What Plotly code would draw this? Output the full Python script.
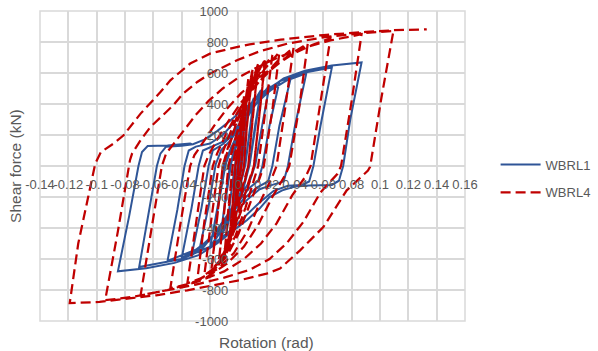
import plotly.graph_objects as go

# ---------------- data ----------------
x_tick_values = [-0.14, -0.12, -0.10, -0.08, -0.06, -0.04, -0.02, 0.0,
                 0.02, 0.04, 0.06, 0.08, 0.10, 0.12, 0.14, 0.16]
x_tick_labels = ["-0.14", "-0.12", "-0.1", "-0.08", "-0.06", "-0.04", "-0.02", "0",
                 "0.02", "0.04", "0.06", "0.08", "0.1", "0.12", "0.14", "0.16"]
y_tick_values = [-1000, -800, -600, -400, -200, 0, 200, 400, 600, 800, 1000]
y_tick_labels = ["-1000", "-800", "-600", "-400", "-200", "0", "200", "400", "600", "800", "1000"]

# WBRL1 hysteresis path (rotation in rad, shear force in kN)
wbrl1_rotation = [
    0.0, 0.002, 0.004,
    0.003, 0.001, -0.002, -0.004,
    -0.002, 0.0, 0.004, 0.007,
    0.005, 0.002, -0.003, -0.008,
    -0.005, -0.002, 0.002, 0.006, 0.011,
    0.008, 0.005, 0.001, -0.005, -0.013,
    -0.009, -0.006, -0.002, 0.004, 0.011,
    0.008, 0.005, 0.001, -0.006, -0.013,
    -0.009, -0.005, -0.001, 0.005, 0.010, 0.016,
    0.012, 0.008, 0.004, -0.003, -0.011, -0.020,
    -0.014, -0.010, -0.005, 0.002, 0.009, 0.016,
    0.012, 0.008, 0.004, -0.004, -0.012, -0.020,
    -0.014, -0.009, -0.005, 0.001, 0.008, 0.015, 0.022,
    0.017, 0.012, 0.008, 0.001, -0.008, -0.018, -0.028,
    -0.021, -0.016, -0.012, -0.006, 0.001, 0.009, 0.018, 0.029,
    0.022, 0.017, 0.014, 0.008, 0.0, -0.010, -0.021, -0.033,
    -0.026, -0.021, -0.018, -0.011, -0.004, 0.004, 0.012, 0.023, 0.037,
    0.029, 0.024, 0.021, 0.013, 0.004, -0.006, -0.017, -0.028, -0.040,
    -0.033, -0.028, -0.025, -0.018, -0.010, -0.003, 0.005, 0.014, 0.025, 0.035, 0.048,
    0.040, 0.035, 0.032, 0.024, 0.015, 0.006, -0.004, -0.016, -0.030, -0.050,
    -0.043, -0.038, -0.035, -0.030, -0.020, -0.011, -0.002, 0.008, 0.018, 0.030, 0.045, 0.066,
    0.058, 0.053, 0.050, 0.045, 0.035, 0.025, 0.015, 0.005, -0.006, -0.020, -0.040, -0.070,
    -0.063, -0.0575, -0.055, -0.051, -0.040, -0.032, -0.024, -0.015, -0.006, 0.002, 0.012,
    0.022, 0.032, 0.047, 0.066, 0.087,
    0.079, 0.074, 0.071, 0.066, 0.050, 0.040, 0.031, 0.022, 0.015, 0.006, -0.004, -0.015,
    -0.028, -0.045, -0.065, -0.085,
    -0.077, -0.0705, -0.068, -0.064, -0.050, -0.034, -0.032,
]
wbrl1_force = [
    0, 170, 300,
    150, -20, -170, -300,
    -110, 50, 250, 380,
    200, -30, -220, -400,
    -170, 30, 190, 330, 440,
    240, 20, -130, -300, -480,
    -200, 0, 130, 290, 430,
    230, 10, -140, -310, -470,
    -220, 20, 140, 290, 400, 490,
    270, 20, -120, -260, -400, -530,
    -230, 10, 120, 260, 390, 485,
    260, 10, -130, -270, -410, -525,
    -250, 10, 110, 210, 340, 440, 520,
    270, 10, -100, -200, -320, -450, -562,
    -260, 10, 105, 160, 250, 360, 460, 545,
    260, 0, -95, -140, -230, -360, -480, -578,
    -270, 0, 100, 140, 200, 300, 400, 490, 568,
    260, 0, -100, -140, -210, -320, -440, -530, -595,
    -270, 0, 100, 128, 160, 230, 320, 420, 505, 555, 598,
    260, 0, -100, -122, -150, -220, -320, -440, -540, -612,
    -280, 0, 100, 125, 145, 200, 290, 390, 480, 550, 600, 635,
    260, 0, -100, -122, -128, -160, -235, -320, -420, -520, -600, -652,
    -300, 0, 80, 125, 130, 140, 170, 225, 290, 355, 425,
    500, 565, 615, 648, 668,
    300, 0, -95, -122, -126, -133, -157, -200, -275, -350, -420, -500,
    -575, -625, -660, -679,
    -320, 0, 90, 129, 132, 145, 138,
]

# WBRL4 hysteresis path (rotation in rad, shear force in kN)
wbrl4_rotation = [
    0.0, 0.002, 0.004,
    0.002, 0.0, -0.002, -0.004,
    -0.002, 0.0, 0.003, 0.007,
    0.004, 0.002, -0.001, -0.004, -0.007,
    -0.004, -0.002, 0.002, 0.007,
    0.004, 0.002, -0.001, -0.004, -0.007,
    -0.004, -0.002, 0.001, 0.005, 0.010,
    0.006, 0.004, 0.001, -0.004, -0.010,
    -0.007, -0.004, 0.0, 0.005, 0.010,
    0.006, 0.004, 0.0, -0.005, -0.010,
    -0.007, -0.004, -0.001, 0.004, 0.009, 0.014,
    0.010, 0.007, 0.004, -0.001, -0.007, -0.014,
    -0.010, -0.007, -0.003, 0.003, 0.009, 0.014,
    0.010, 0.007, 0.003, -0.002, -0.008, -0.014,
    -0.010, -0.007, -0.004, 0.002, 0.008, 0.013, 0.019,
    0.015, 0.011, 0.008, 0.002, -0.005, -0.012, -0.019,
    -0.015, -0.011, -0.007, -0.001, 0.006, 0.012, 0.019,
    0.015, 0.011, 0.007, 0.001, -0.006, -0.013, -0.019,
    -0.015, -0.011, -0.008, -0.002, 0.005, 0.012, 0.018, 0.024,
    0.019, 0.014, 0.011, 0.005, -0.002, -0.010, -0.017, -0.024,
    -0.019, -0.014, -0.011, -0.005, 0.002, 0.010, 0.019, 0.029,
    0.024, 0.018, 0.015, 0.008, 0.0, -0.008, -0.018, -0.029,
    -0.024, -0.018, -0.015, -0.009, -0.001, 0.008, 0.018, 0.028, 0.039,
    0.033, 0.027, 0.024, 0.016, 0.007, -0.003, -0.014, -0.025, -0.036,
    -0.030, -0.024, -0.021, -0.015, -0.007, 0.002, 0.012, 0.023, 0.035, 0.049,
    0.043, 0.036, 0.033, 0.024, 0.014, 0.004, -0.008, -0.022, -0.035, -0.048,
    -0.041, -0.034, -0.031, -0.025, -0.017, -0.008, 0.002, 0.013, 0.026, 0.040, 0.052, 0.065,
    0.058, 0.051, 0.048, 0.038, 0.027, 0.016, 0.004, -0.010, -0.030, -0.050, -0.069,
    -0.061, -0.054, -0.051, -0.045, -0.038, -0.030, -0.021, -0.011, 0.0, 0.012, 0.028,
    0.045, 0.065, 0.087,
    0.080, 0.0725, 0.070, 0.058, 0.046, 0.034, 0.022, 0.008, -0.010, -0.030, -0.055,
    -0.075, -0.094,
    -0.085, -0.0765, -0.075, -0.069, -0.062, -0.053, -0.046, -0.039, -0.029, -0.020,
    -0.011, -0.001, 0.015, 0.035, 0.060, 0.085, 0.1095,
    0.101, 0.093, 0.0915, 0.0765, 0.060, 0.0436, 0.0294, 0.020, 0.001, -0.018, -0.036,
    -0.058, -0.079, -0.098, -0.119,
    -0.113, -0.106, -0.101, -0.097, -0.088, -0.081, -0.069, -0.055, -0.048, -0.034,
    -0.020, -0.006, 0.008, 0.030, 0.060, 0.090, 0.110, 0.133,
]
wbrl4_force = [
    0, 230, 450,
    200, 0, -230, -450,
    -200, 0, 250, 560,
    240, 0, -180, -360, -540,
    -240, 0, 220, 550,
    230, 0, -170, -350, -530,
    -250, 0, 180, 400, 620,
    260, 0, -150, -380, -600,
    -270, 0, 170, 390, 610,
    250, 0, -160, -390, -590,
    -280, 0, 150, 350, 520, 660,
    300, 0, -120, -320, -500, -640,
    -290, 0, 140, 340, 510, 650,
    290, 0, -130, -330, -500, -630,
    -300, 0, 120, 310, 470, 590, 690,
    340, 0, -100, -290, -470, -600, -680,
    -320, 0, 110, 290, 450, 580, 680,
    330, 0, -110, -300, -480, -610, -670,
    -330, 0, 100, 260, 420, 550, 640, 715,
    350, 0, -90, -270, -450, -590, -660, -705,
    -340, 0, 90, 230, 380, 520, 630, 735,
    360, 0, -80, -250, -440, -580, -680, -737,
    -360, 0, 80, 200, 340, 470, 580, 680, 765,
    370, 0, -70, -220, -410, -560, -660, -720, -757,
    -370, 0, 70, 170, 290, 410, 520, 620, 710, 790,
    380, 0, -60, -200, -380, -520, -630, -715, -760, -789,
    -380, 0, 70, 150, 260, 370, 470, 560, 650, 730, 780, 825,
    400, 0, -60, -190, -370, -500, -600, -680, -750, -800, -834,
    -400, 0, 80, 150, 230, 330, 420, 500, 570, 630, 700,
    760, 810, 850,
    420, 0, -50, -170, -360, -500, -600, -670, -720, -765, -810,
    -845, -866,
    -420, 37, 80, 166, 252, 330, 392, 467, 542, 596,
    639, 682, 740, 790, 830, 855, 872,
    440, -6, -30, -157, -394, -544, -662, -694, -737, -770, -802,
    -834, -856, -877, -884,
    -500, -200, 15, 90, 145, 198, 338, 477, 553, 661,
    725, 757, 785, 815, 845, 865, 876, 882,
]

# ---------------- figure ----------------
GRID = "#d9d9d9"
TEXT = "#595959"
FONT = "Liberation Sans, Arial, sans-serif"

fig = go.Figure()
fig.add_trace(go.Scatter(
    x=wbrl1_rotation, y=wbrl1_force, mode="lines", name="WBRL1",
    legendgroup="a",
    line=dict(color="#2F5597", width=2),
))
fig.add_trace(go.Scatter(
    x=wbrl4_rotation, y=wbrl4_force, mode="lines", name="WBRL4",
    legendgroup="b",
    line=dict(color="#C00000", width=2.25, dash="10px,5px"),
))

fig.update_layout(
    template="none",
    width=598, height=351,
    margin=dict(l=40, r=133, t=11, b=30, autoexpand=False),
    paper_bgcolor="white", plot_bgcolor="white",
    font=dict(family=FONT, size=13, color=TEXT),
    showlegend=True,
    legend=dict(x=1.072, y=0.553, xanchor="left", yanchor="top",
                font=dict(size=13, color=TEXT), tracegroupgap=8, itemwidth=40,
                bgcolor="rgba(0,0,0,0)"),
    xaxis=dict(range=[-0.14, 0.16], tickvals=x_tick_values, ticktext=x_tick_labels,
               tickangle=0, showgrid=True, gridcolor=GRID, gridwidth=1.5,
               zeroline=True, zerolinecolor=GRID, zerolinewidth=1.5,
               showline=False, ticks="", anchor="free", position=0.5,
               automargin=False, ticklabeloverflow="allow",
               ticklabelstandoff=9, tickfont=dict(size=13, color=TEXT)),
    yaxis=dict(range=[-1000, 1000], tickvals=y_tick_values, ticktext=y_tick_labels,
               showgrid=True, gridcolor=GRID, gridwidth=1.5,
               zeroline=True, zerolinecolor=GRID, zerolinewidth=1.5,
               showline=False, ticks="", anchor="free", position=0.14 / 0.30,
               automargin=False, ticklabeloverflow="allow",
               ticklabelstandoff=10, tickfont=dict(size=13, color=TEXT)),
    annotations=[
        dict(text="Shear force (kN)", xref="paper", yref="paper", x=-0.059, y=0.5,
             textangle=-90, showarrow=False, xanchor="center", yanchor="middle",
             font=dict(size=15.5, color=TEXT)),
        dict(text="Rotation (rad)", xref="paper", yref="paper", x=0.532, y=-0.07,
             showarrow=False, xanchor="center", yanchor="middle",
             font=dict(size=15.5, color=TEXT)),
    ],
    shapes=[dict(type="rect", xref="paper", yref="paper", x0=0, y0=0, x1=1, y1=1,
                 line=dict(color=GRID, width=1.5), layer="below")],
)

fig.write_html("out.html", config={"displayModeBar": False},
               post_script="document.body.style.margin='0';")
